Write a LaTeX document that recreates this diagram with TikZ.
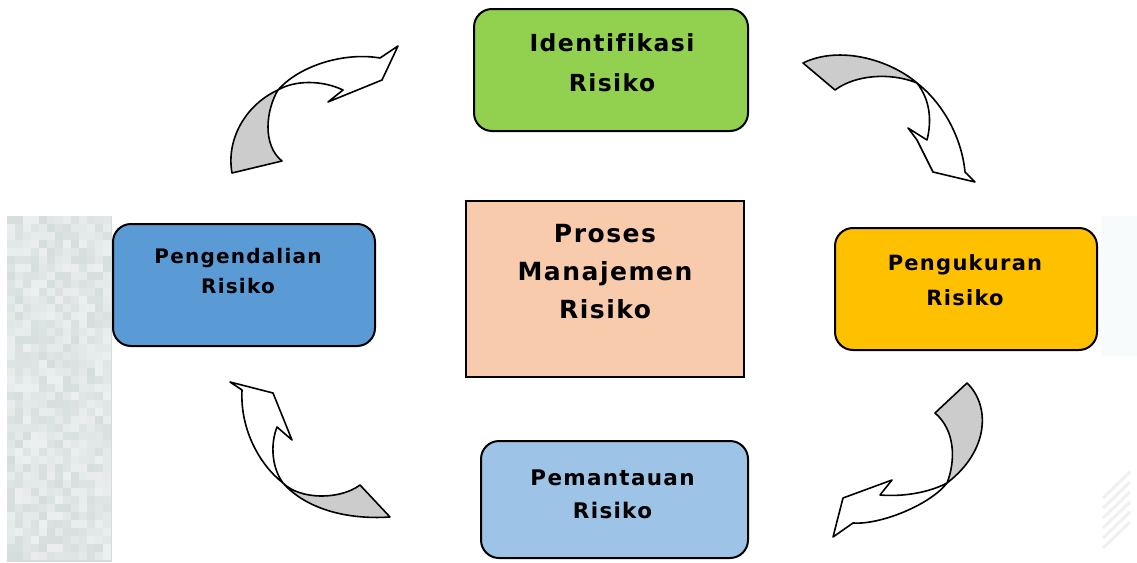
\documentclass[tikz,border=0pt]{standalone}
\usepackage{fontspec}
\setmainfont{DejaVu Sans}[LetterSpace=6.0, Ligatures=NoCommon]
\definecolor{idgreen}{RGB}{146,208,80}
\definecolor{ctlblue}{RGB}{91,155,213}
\definecolor{measorange}{RGB}{255,192,0}
\definecolor{procpeach}{RGB}{248,203,173}
\definecolor{monblue}{RGB}{157,195,230}
\definecolor{ribbongray}{RGB}{204,204,204}
\definecolor{texbase}{RGB}{212,220,220}
\definecolor{texpale}{RGB}{247,251,252}
\begin{document}
\begin{tikzpicture}[x=1pt,y=-1pt,
  stagebox/.style={draw=black, line width=2pt, rounded corners=18pt, inner sep=0pt},
  centerbox/.style={draw=black, line width=1.6pt, inner sep=0pt},
  label/.style={inner sep=0pt, anchor=base, align=center, text width=260pt},
  ribbonback/.style={draw=black, line width=1.6pt, fill=ribbongray, line join=round},
  ribbonfront/.style={draw=black, line width=1.6pt, fill=white, line join=round}]
\useasboundingbox (0,0) rectangle (1137,562);
\fill[white] (0,0) rectangle (1137,562);

% mottled strip on the left edge
\fill[texbase] (7,216) rectangle (112,562);
\pgfmathsetseed{7}
\foreach \i in {0,...,12}{
  \foreach \j in {0,...,42}{
    \pgfmathsetmacro\v{int(45+55*rnd)}
    \fill[texbase!\v!white] (7+8*\i,216+8*\j) rectangle ++(8,8);
  }
}
% pale strip on the right edge
\fill[texpale] (1101,216) rectangle (1137,356);
\foreach \k in {0,...,5}{
  \draw[black!6, line width=3pt] (1103,548-10*\k) -- (1130,522-10*\k);
}

% stage boxes
\node[stagebox, fill=idgreen, minimum width=274pt, minimum height=122pt] (id) at (611,70) {};
\node[stagebox, fill=ctlblue, minimum width=262pt, minimum height=122pt] (ctl) at (244,285) {};
\node[stagebox, fill=measorange, minimum width=262pt, minimum height=122pt] (meas) at (966,289) {};
\node[stagebox, fill=monblue, minimum width=267pt, minimum height=117pt] (mon) at (614.5,499.5) {};
\node[centerbox, fill=procpeach, minimum width=278pt, minimum height=176pt] (proc) at (605,289) {};

% box texts
\node[label, font=\bfseries\fontsize{23.5}{40}\selectfont] (idtext) at (612,51) {Identifikasi\\Risiko};
\node[label, font=\bfseries\fontsize{25}{38}\selectfont] (proctext) at (605,242) {Proses\\Manajemen\\Risiko};
\node[label, font=\bfseries\fontsize{20}{30}\selectfont] (ctltext) at (238,263) {Pengendalian\\Risiko};
\node[label, font=\bfseries\fontsize{21}{35}\selectfont] (meastext) at (965,270) {Pengukuran\\Risiko};
\node[label, font=\bfseries\fontsize{21.5}{33}\selectfont] (montext) at (612.5,485) {Pemantauan\\Risiko};

% twisted ribbon arrows
% Pengendalian -> Identifikasi
\draw[ribbonback] (232,173) .. controls (226,140) and (245,105) .. (278,90)
  .. controls (266,110) and (262,145) .. (282,161) -- cycle;
\draw[ribbonfront] (278,90) .. controls (300,65) and (345,52) .. (380,58)
  -- (398,46) -- (382,80) -- (328,102) -- (343,90)
  .. controls (322,80) and (295,80) .. (278,90) -- cycle;
% Identifikasi -> Pengukuran
\draw[ribbonback] (803,63) .. controls (840,45) and (890,60) .. (917,83)
  .. controls (890,72) and (855,75) .. (835,90) -- cycle;
\draw[ribbonfront] (917,83) .. controls (945,105) and (962,140) .. (965,172)
  -- (975,182) -- (933,172) -- (917,140) -- (908,128) -- (927,140)
  .. controls (932,120) and (930,100) .. (917,83) -- cycle;
% Pengukuran -> Pemantauan
\draw[ribbonback] (935,413) -- (967,383) .. controls (990,405) and (990,450) .. (947,483)
  .. controls (956,460) and (955,430) .. (935,413) -- cycle;
\draw[ribbonfront] (947,483) .. controls (930,505) and (880,525) .. (853,523)
  -- (833,537) -- (843,498) -- (892,480) -- (880,495)
  .. controls (905,497) and (930,492) .. (947,483) -- cycle;
% Pemantauan -> Pengendalian
\draw[ribbonback] (283,483) .. controls (300,500) and (340,500) .. (360,485)
  -- (390,517) .. controls (345,520) and (305,508) .. (283,483) -- cycle;
\draw[ribbonfront] (283,483) .. controls (260,465) and (240,430) .. (242,390)
  -- (230,382) -- (273,393) -- (292,440) -- (277,427)
  .. controls (270,445) and (272,468) .. (283,483) -- cycle;
\end{tikzpicture}
\end{document}
